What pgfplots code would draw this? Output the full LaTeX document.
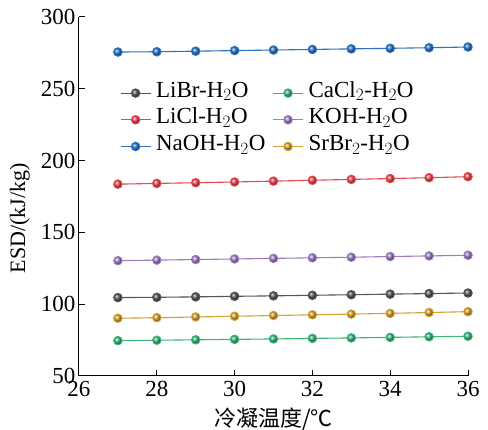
\documentclass[border=0pt]{standalone}
\usepackage{pgfplots}
\pgfplotsset{compat=1.18}
\usepackage{fontspec}
\setmainfont{Liberation Serif}
\newfontfamily\cjk{Noto Sans CJK SC}
\definecolor{cBr}{HTML}{555558}
\definecolor{cCl}{HTML}{E8474F}
\definecolor{cNa}{HTML}{2B73C2}
\definecolor{cCa}{HTML}{3BB57A}
\definecolor{cK}{HTML}{9E7CC1}
\definecolor{cSr}{HTML}{D4A030}
\begin{document}
\begin{tikzpicture}
\path[use as bounding box] (-79pt,-54pt) rectangle (409pt,376pt);
\begin{axis}[
  scale only axis, width=389pt, height=359pt,
  xmin=26, xmax=36, ymin=50, ymax=300,
  axis lines*=left,
  axis line style={line width=1pt, black},
  tick style={line width=1pt, black},
  tick align=inside,
  major tick length=6pt,
  xtick={26,28,...,36}, ytick={50,100,...,300},
  /pgf/number format/assume math mode=true,
  tick label style={font=\fontsize{23}{25}\selectfont},
  label style={font=\fontsize{22}{24}\selectfont},
  xticklabel style={yshift=-2pt},
  xlabel={{\cjk 冷凝温度/℃}},
  ylabel={ESD/(kJ/kg)},
  xlabel style={at={(axis description cs:0.5,0)}, anchor=center, yshift=-43pt},
  ylabel style={at={(axis description cs:-0.1517,0.44)}, anchor=center},
  legend columns=2,
  legend style={draw=none, fill=none, at={(axis description cs:0.105,0.822)}, anchor=north west,
    font=\fontsize{23}{25}\selectfont, row sep=2.7pt, column sep=0pt,
    inner sep=0pt, nodes={inner sep=0pt, text height=16pt, text depth=8pt},
    /tikz/every odd column/.append style={column sep=5pt},
    /tikz/every even column/.append style={column sep=7pt}},
  legend cell align=left,
  every axis plot/.append style={line width=1.1pt, mark=ball, mark size=4.2pt},
  legend image code/.code={
    \draw[mark repeat=2,mark phase=2] plot coordinates {(0pt,0pt) (15pt,0pt) (30pt,0pt)};
  },
]
\addplot[color=cBr, mark options={ball color=cBr}] coordinates {
(27,104.6)(28,104.8)(29,105.1)(30,105.5)(31,105.8)(32,106.2)(33,106.6)(34,107.0)(35,107.4)(36,107.8)};
\addlegendentry{LiBr-H$_2$O}
\addplot[color=cCa, mark options={ball color=cCa}] coordinates {
(27,74.6)(28,74.9)(29,75.2)(30,75.5)(31,75.8)(32,76.2)(33,76.5)(34,76.9)(35,77.3)(36,77.7)};
\addlegendentry{CaCl$_2$-H$_2$O}
\addplot[color=cCl, mark options={ball color=cCl}] coordinates {
(27,183.6)(28,184.1)(29,184.6)(30,185.1)(31,185.7)(32,186.3)(33,186.9)(34,187.5)(35,188.1)(36,188.8)};
\addlegendentry{LiCl-H$_2$O}
\addplot[color=cK, mark options={ball color=cK}] coordinates {
(27,130.3)(28,130.7)(29,131.1)(30,131.5)(31,131.9)(32,132.3)(33,132.7)(34,133.2)(35,133.6)(36,134.1)};
\addlegendentry{KOH-H$_2$O}
\addplot[color=cNa, mark options={ball color=cNa}] coordinates {
(27,275.6)(28,275.8)(29,276.2)(30,276.6)(31,277.0)(32,277.4)(33,277.8)(34,278.2)(35,278.6)(36,279.1)};
\addlegendentry{NaOH-H$_2$O}
\addplot[color=cSr, mark options={ball color=cSr}] coordinates {
(27,90.2)(28,90.6)(29,91.1)(30,91.6)(31,92.1)(32,92.6)(33,93.1)(34,93.6)(35,94.2)(36,94.8)};
\addlegendentry{SrBr$_2$-H$_2$O}
\end{axis}
\end{tikzpicture}
\end{document}
